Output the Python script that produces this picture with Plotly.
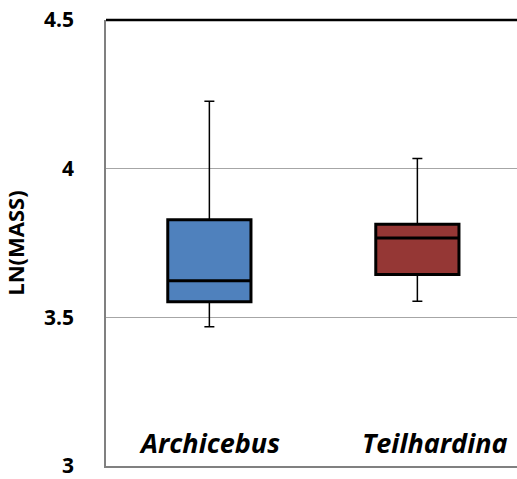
import plotly.graph_objects as go

categories = ["Archicebus", "Teilhardina"]
lower = [3.468, 3.554]
q1 = [3.552, 3.644]
median = [3.623, 3.767]
q3 = [3.828, 3.813]
upper = [4.227, 4.034]
colors = ["#4F81BD", "#953735"]
y_ticks = [3, 3.5, 4, 4.5]
y_labels = ["3", "3.5", "4", "4.5"]

FONT = "Open Sans"
fig = go.Figure()
for i, c in enumerate(categories):
    # whiskers (thin)
    fig.add_trace(go.Box(
        x=[c], q1=[q1[i]], median=[median[i]], q3=[q3[i]],
        lowerfence=[lower[i]], upperfence=[upper[i]],
        fillcolor=colors[i], line=dict(color="black", width=1.5),
        width=0.4, whiskerwidth=0.12, showlegend=False, hoverinfo="skip"))
    # box outline (thick)
    fig.add_trace(go.Box(
        x=[c], q1=[q1[i]], median=[median[i]], q3=[q3[i]],
        lowerfence=[q1[i]], upperfence=[q3[i]],
        fillcolor=colors[i], line=dict(color="black", width=3),
        width=0.4, whiskerwidth=0, showlegend=False, hoverinfo="skip"))

# category labels drawn inside the plot area
label_shift = {"Archicebus": 0, "Teilhardina": 18}
for c in categories:
    fig.add_annotation(x=c, xref="x", y=0, yref="paper", text=c,
                       showarrow=False, yanchor="bottom", yshift=3,
                       xshift=label_shift[c],
                       font=dict(family=FONT, size=27, color="black",
                                 weight=700, style="italic"))

# dark top border
fig.add_shape(type="line", xref="paper", yref="paper", x0=0, x1=1,
              y0=1, y1=1, layer="above",
              line=dict(color="black", width=2.5))

fig.update_layout(
    width=517, height=479,
    margin=dict(l=106, r=0, t=20, b=9),
    paper_bgcolor="white", plot_bgcolor="white",
    boxmode="overlay",
    font=dict(family=FONT, color="black"),
    xaxis=dict(
        type="category", range=[-0.497, 1.479],
        showline=True, linecolor="#808080", linewidth=1.5,
        showticklabels=False, ticks="",
        showgrid=False, zeroline=False,
    ),
    yaxis=dict(
        range=[3, 4.5], tickvals=y_ticks, ticktext=y_labels,
        showline=True, linecolor="#808080", linewidth=1.5,
        showgrid=True, gridcolor="#A6A6A6", gridwidth=1.2,
        zeroline=False, ticks="", ticklabelstandoff=26,
        ticklabeloverflow="allow",
        tickfont=dict(family=FONT, size=21, color="black", weight=700),
        title=dict(text="LN(MASS)", standoff=13,
                   font=dict(family=FONT, size=22, color="black", weight=700)),
    ),
)

fig.write_html("out.html")
